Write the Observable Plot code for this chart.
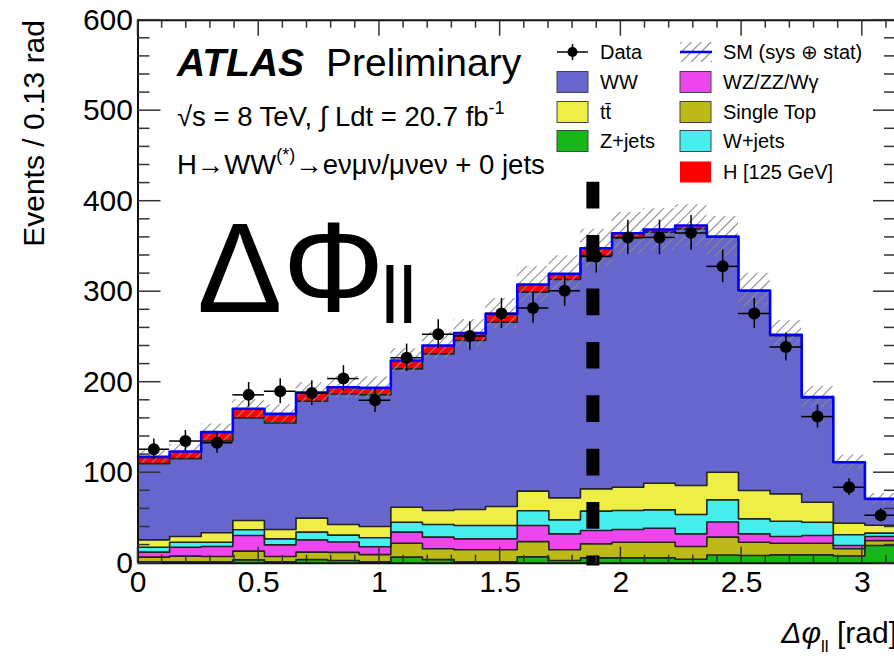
<!DOCTYPE html>
<html><head><meta charset="utf-8">
<script src="https://cdn.jsdelivr.net/npm/d3@7"></script>
<script src="https://cdn.jsdelivr.net/npm/@observablehq/plot@0.6"></script>
<style>
html,body{margin:0;padding:0;background:#fff;}
#chart{width:894px;height:658px;overflow:hidden;position:relative;}
</style></head><body><div id="chart"></div>
<script>
const FONT = "'Liberation Sans', Arial, Helvetica, sans-serif";

// ---- data (24 bins of 0.13 rad from 0 to pi) ----
const nBins = 24;
const zjets     = [1.5,1.5,1.5,3.7,1.5,4.0,3.0,1.5,6.7,4.0,1.5,1.5,7.0,3.0,5.9,5.9,5.9,4.4,9.0,8.5,9.2,9.2,8.0,19.5];
const singleTop = [5.2,6.3,5.9,9.6,5.9,8.2,9.0,8.0,15.4,11.9,13.3,13.3,16.8,11.8,15.5,17.3,17.3,14.0,19.8,14.7,12.9,12.9,7.9,5.5];
const wzzzwg    = [5.5,9.9,11.0,17.3,12.9,13.6,11.5,8.7,12.2,12.9,12.1,12.1,17.9,17.6,14.7,14.0,15.5,14.0,16.8,9.2,7.4,8.5,3.6,4.5];
const wjets     = [5.5,5.5,4.8,6.3,6.6,8.5,7.5,10.0,11.0,14.0,14.8,14.8,16.3,15.5,21.4,21.0,20.2,21.4,24.4,16.6,16.9,14.7,12.0,3.7];
const ttbar     = [8.1,6.3,10.4,10.3,10.3,15.5,11.8,12.3,16.6,15.4,17.6,20.9,21.6,24.3,24.6,25.8,29.5,32.0,30.5,31.3,30.2,22.1,12.7,8.8];
const ww        = [84.2,86.0,101.4,113.4,117.8,129.2,144.2,145.5,152.8,173.1,186.7,203.7,219.9,241.2,257.9,275.5,277.4,283.6,259.8,220.2,174.9,115.6,67.3,29.0];
const higgs     = [7.5,7.9,9.8,10.0,10.0,9.5,7.5,7.8,9.3,9.2,8.2,9.2,8.4,6.3,8.0,5.1,2.9,3.7,0.7,0.9,0.8,0.5,0.1,0.1];
const smUnc     = [7,8,9,10,10,11,12,12,13,15,15,17,20,20,21,23,23,23,22,19,16,12,8,6];
const dataVals  = [126,135,133,186,190,188,204,180,227,253,251,276,282,301,339,360,360,365,328,276,239,162,84,53];
const dataErr   = [11.2,11.6,11.5,13.6,13.8,13.7,14.3,13.4,15.1,15.9,15.8,16.6,16.8,17.3,18.4,19.0,19.0,19.1,18.1,16.6,15.5,12.7,9.2,7.3];
const cutValue = 1.884;          // dashed vertical line
const yTickLabels = [0,100,200,300,400,500,600];
const xTickLabels = [0,0.5,1,1.5,2,2.5,3];

const seriesNames  = ["Z+jets","Single Top","WZ/ZZ/Wγ","W+jets","tt̄","WW","H [125 GeV]"];
const seriesColors = ["#16b716","#bdb917","#ee46ee","#46eeee","#eeee46","#6666cc","#ff0000"];
const seriesValues = [zjets, singleTop, wzzzwg, wjets, ttbar, ww, higgs];

// ---- derived tables ----
const binW = Math.PI / nBins;
const cum = new Array(nBins).fill(0);
const rectRows = [];
const stepRows = [];
seriesValues.forEach((vals, s) => {
  for (let i = 0; i < nBins; i++) {
    rectRows.push({s, x1: i*binW, x2: (i+1)*binW, y1: cum[i], y2: cum[i] + vals[i]});
    cum[i] += vals[i];
  }
  for (let i = 0; i <= nBins; i++) {
    const j = Math.min(i, nBins-1);
    stepRows.push({s, x: i*binW, y: cum[j]});
  }
});
const total = cum.slice();
const totalStep = d3.range(nBins+1).map(i => ({x: i*binW, y: total[Math.min(i, nBins-1)]}));
const bins = d3.range(nBins).map(i => ({
  x1: i*binW, x2: (i+1)*binW, xc: (i+0.5)*binW,
  lo: total[i]-smUnc[i], hi: total[i]+smUnc[i],
  d: dataVals[i], e: dataErr[i]
}));

const marks = [];
seriesValues.forEach((_, s) => {
  marks.push(Plot.rect(rectRows.filter(r => r.s === s), {x1:"x1", x2:"x2", y1:"y1", y2:"y2", fill: seriesColors[s], shapeRendering:"crispEdges"}));
});
seriesValues.forEach((_, s) => {
  if (s === seriesValues.length-1) return;
  marks.push(Plot.line(stepRows.filter(r => r.s === s), {x:"x", y:"y", curve:"step-after", stroke:"#222", strokeWidth:1.6}));
});
marks.push(Plot.rect(bins, {x1:"x1", x2:"x2", y1:"lo", y2:"hi", fill:"url(#hatch)"}));
marks.push(Plot.line(totalStep, {x:"x", y:"y", curve:"step-after", stroke:"#0000ff", strokeWidth:2.6}));
marks.push(Plot.ruleY(bins, {x1:"x1", x2:"x2", y:"d", stroke:"#000", strokeWidth:1.5}));
marks.push(Plot.ruleX(bins, {x:"xc", y1: d => d.d - d.e, y2: d => d.d + d.e, stroke:"#000", strokeWidth:1.5}));
marks.push(Plot.dot(bins, {x:"xc", y:"d", r:6, fill:"#000"}));
marks.push(Plot.ruleX([cutValue], {x: d => d, y1: 421, y2: -3, stroke:"#000", strokeWidth:13, strokeDasharray:"26.7 26.7"}));
marks.push(Plot.ruleY([0, 600], {stroke:"#111", strokeWidth:2}));
marks.push(Plot.ruleX([0], {stroke:"#111", strokeWidth:2}));
marks.push(Plot.axisY({ticks: yTickLabels, tickSize:0, tickPadding:5, fontSize:30, label:null}));
marks.push(Plot.axisX({ticks: xTickLabels, tickSize:0, tickPadding:7, fontSize:30, label:null, tickFormat: d => String(d)}));

const chart = Plot.plot({
  width: 894, height: 658,
  marginLeft: 137.5, marginRight: 0, marginTop: 19.7, marginBottom: 95.3,
  x: {domain: [0, Math.PI], range: [137.5, 896], label: null},
  y: {domain: [0, 600], range: [562.7, 19.7], label: null},
  style: {fontFamily: FONT, background: "#fff", color: "#000", overflow: "hidden"},
  marks
});
document.getElementById("chart").appendChild(chart);

// ---- decorations ----
const svg = d3.select(chart);
const ns = svg.insert("defs", ":first-child");
const pat = ns.append("pattern").attr("id","hatch").attr("patternUnits","userSpaceOnUse")
  .attr("width",7).attr("height",7).attr("patternTransform","rotate(45)");
pat.append("line").attr("x1",0).attr("y1",0).attr("x2",0).attr("y2",7)
  .attr("stroke","#8a8a8a").attr("stroke-width",2.2);

const xs = chart.scale("x"), ys = chart.scale("y");
const X = v => xs.apply(v), Y = v => ys.apply(v);
const yB = Y(0), yT = Y(600), xL = X(0), xR = X(Math.PI);
const gT = svg.append("g").attr("stroke","#333").attr("stroke-width",1.5);
d3.range(0, 3.15, 0.1).forEach(v => {
  const major = Math.abs(v*2 - Math.round(v*2)) < 1e-6;
  const len = major ? 16 : 8;
  gT.append("line").attr("x1",X(v)).attr("x2",X(v)).attr("y1",yB).attr("y2",yB-len);
  gT.append("line").attr("x1",X(v)).attr("x2",X(v)).attr("y1",yT).attr("y2",yT+len);
});
d3.range(0, 601, 20).forEach(v => {
  const len = v % 100 === 0 ? 23 : 12;
  gT.append("line").attr("y1",Y(v)).attr("y2",Y(v)).attr("x1",xL).attr("x2",xL+len);
  gT.append("line").attr("y1",Y(v)).attr("y2",Y(v)).attr("x1",xR).attr("x2",xR-len);
});

const T = svg.append("g").attr("font-family", FONT).attr("fill", "#000").attr("text-anchor","start");
// Axis titles
T.append("text").attr("transform","translate(44,20) rotate(-90)").attr("text-anchor","end")
  .attr("font-size",30).text("Events / 0.13 rad");
const xt = T.append("text").attr("x",897).attr("y",643).attr("text-anchor","end").attr("font-size",30);
xt.append("tspan").attr("font-style","italic").text("Δφ");
xt.append("tspan").attr("font-size",17).attr("dy",9).text("ll");
xt.append("tspan").attr("dy",-9).text(" [rad]");

// ATLAS labels
const a1 = T.append("text").attr("x",177).attr("y",76).attr("font-size",39);
a1.append("tspan").attr("font-weight","bold").attr("font-style","italic").text("ATLAS");
a1.append("tspan").attr("dx",22).text("Preliminary");
const a2 = T.append("text").attr("x",177).attr("y",126).attr("font-size",27.5);
a2.append("tspan").text("√s = 8 TeV, ∫ Ldt = 20.7 fb");
a2.append("tspan").attr("font-size",18).attr("dy",-12).text("-1");
const a3 = T.append("text").attr("x",177).attr("y",174).attr("font-size",27.5);
a3.append("tspan").text("H→WW");
a3.append("tspan").attr("font-size",18).attr("dy",-13).text("(*)");
a3.append("tspan").attr("dy",13).text("→eνμν/μνeν + 0 jets");

// Big annotation
const big = T.append("text").attr("x",197).attr("y",312).attr("font-size",128);
big.append("tspan").text("ΔΦ");
big.append("tspan").attr("x",381).attr("y",323).attr("font-size",80).text("ll");

// Legend
const L = svg.append("g").attr("font-family", FONT).attr("font-size", 20).attr("text-anchor","start");
const rowY = [52, 82, 112, 141, 172];
const c1 = 557, c2 = 680, sw = 31, sh = 21;
// Data
L.append("line").attr("x1",c1).attr("x2",c1+sw).attr("y1",rowY[0]).attr("y2",rowY[0]).attr("stroke","#000").attr("stroke-width",1.5);
L.append("line").attr("x1",c1+sw/2).attr("x2",c1+sw/2).attr("y1",rowY[0]-8).attr("y2",rowY[0]+8).attr("stroke","#000").attr("stroke-width",1.5);
L.append("circle").attr("cx",c1+sw/2).attr("cy",rowY[0]).attr("r",5).attr("fill","#000");
L.append("text").attr("x",600).attr("y",rowY[0]+7).text("Data");
// SM
L.append("rect").attr("x",c2).attr("y",rowY[0]-10).attr("width",sw+1).attr("height",20).attr("fill","url(#hatch)");
L.append("line").attr("x1",c2).attr("x2",c2+sw+1).attr("y1",rowY[0]).attr("y2",rowY[0]).attr("stroke","#0000ff").attr("stroke-width",2.5);
L.append("text").attr("x",723).attr("y",rowY[0]+7).text("SM (sys ⊕ stat)");
const legendItems = [
  [5, c1, 1], [4, c1, 2], [0, c1, 3],
  [2, c2, 1], [1, c2, 2], [3, c2, 3], [6, c2, 4]
];
legendItems.forEach(([s, cx, r]) => {
  L.append("rect").attr("x",cx).attr("y",rowY[r]-sh/2).attr("width",sw).attr("height",sh)
    .attr("fill",seriesColors[s]).attr("stroke", s === 6 ? "none" : "#444").attr("stroke-width",1);
  L.append("text").attr("x", cx === c1 ? 600 : 723).attr("y", rowY[r]+7).text(seriesNames[s]);
});
</script></body></html>
